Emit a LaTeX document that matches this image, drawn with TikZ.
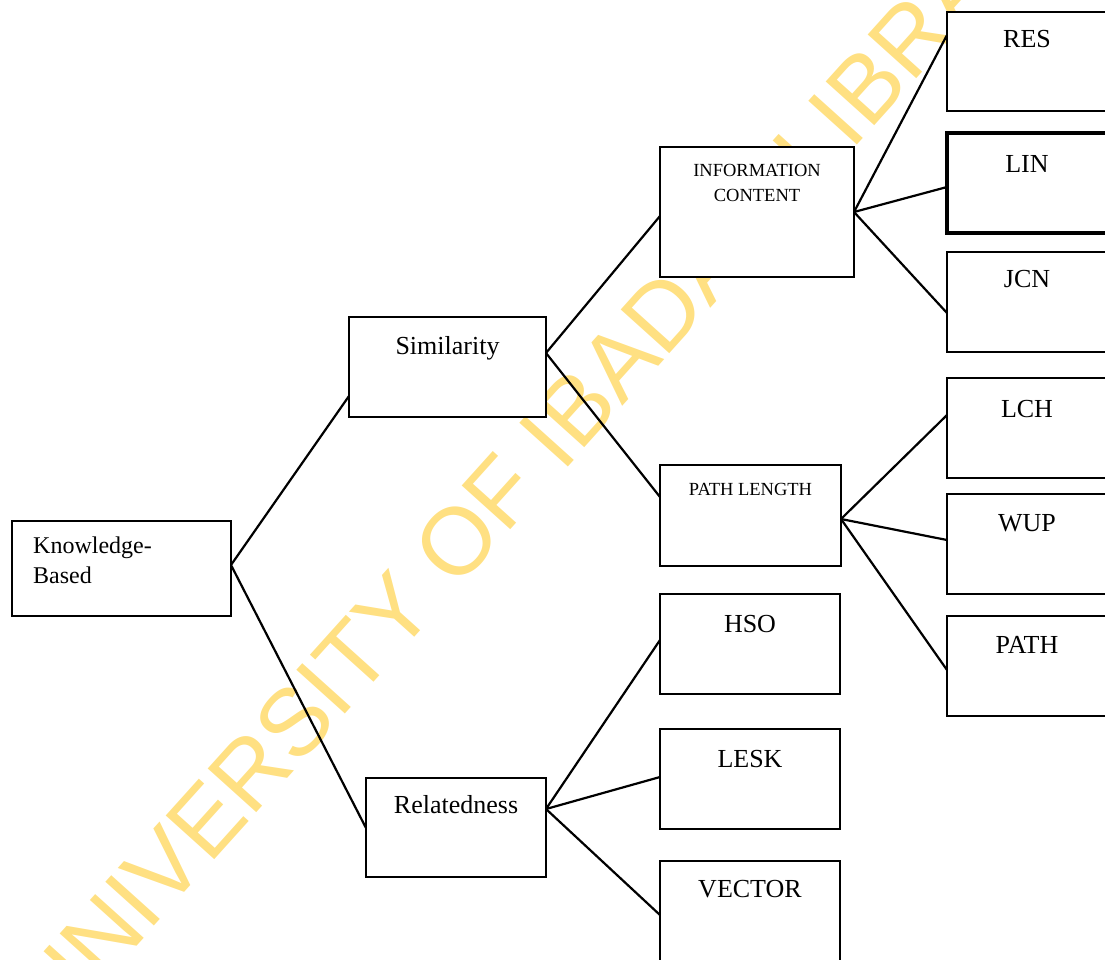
\documentclass[tikz,border=0pt]{standalone}
\usepackage{fontspec}
\setmainfont{Liberation Serif}
\newfontfamily\wmfont{Liberation Sans}
\definecolor{wmyellow}{RGB}{255,224,130}
\pgfdeclarelayer{wmlayer}
\pgfdeclarelayer{linklayer}
\pgfsetlayers{wmlayer,linklayer,main}
\begin{document}
\begin{tikzpicture}[x=1pt,y=-1pt,
  box/.style={draw=black, fill=white, line width=2.3pt, inner sep=0pt, outer sep=0pt,
              anchor=north west, minimum height=100pt},
  lbl/.style={anchor=base, inner sep=0pt, font=\fontsize{26}{30}\selectfont},
  small/.style={anchor=base, inner sep=0pt, align=center, font=\fontsize{18.5}{25}\selectfont},
  link/.style={line width=2.2pt, line cap=round}]
\clip (0,0) rectangle (1105,959);

% boxes
\node[box, minimum width=219pt, minimum height=95pt] (kb) at (12,521) {};
\node[box, minimum width=197pt] (sim) at (349,317) {};
\node[box, minimum width=180pt, minimum height=99pt] (rel) at (366,778) {};
\node[box, minimum width=194pt, minimum height=130pt] (ic) at (660,147) {};
\node[box, minimum width=181pt, minimum height=101pt] (pl) at (660,465) {};
\node[box, minimum width=180pt] (hso) at (660,594) {};
\node[box, minimum width=180pt] (lesk) at (660,729) {};
\node[box, minimum width=180pt] (vec) at (660,861) {};
\node[box, minimum width=160pt, minimum height=99pt] (res) at (947,12) {};
\node[box, minimum width=160pt, line width=3.5pt] (lin) at (947,133) {};
\node[box, minimum width=160pt] (jcn) at (947,252) {};
\node[box, minimum width=160pt] (lch) at (947,378) {};
\node[box, minimum width=160pt] (wup) at (947,494) {};
\node[box, minimum width=160pt] (path) at (947,616) {};

% labels (for two-line labels the base anchor sits on the last line)
\node[anchor=base west, align=left, inner sep=0pt, font=\fontsize{24}{30}\selectfont]
  (kbT) at ([xshift=21pt,yshift=-62pt]kb.north west) {Knowledge-\\Based};
\node[lbl] (simT) at ([yshift=-37pt]sim.north) {Similarity};
\node[lbl] (relT) at ([yshift=-35pt]rel.north) {Relatedness};
\node[small] (icT) at ([yshift=-54pt]ic.north) {INFORMATION\\CONTENT};
\node[small] (plT) at ([yshift=-30pt]pl.north) {PATH LENGTH};
\node[lbl] (hsoT) at ([yshift=-38pt]hso.north) {HSO};
\node[lbl] (leskT) at ([yshift=-38pt]lesk.north) {LESK};
\node[lbl] (vecT) at ([yshift=-36pt]vec.north) {VECTOR};
\node[lbl] (resT) at ([yshift=-35pt]res.north) {RES};
\node[lbl] (linT) at ([yshift=-39pt]lin.north) {LIN};
\node[lbl] (jcnT) at ([yshift=-35pt]jcn.north) {JCN};
\node[lbl] (lchT) at ([yshift=-39pt]lch.north) {LCH};
\node[lbl] (wupT) at ([yshift=-37pt]wup.north) {WUP};
\node[lbl] (pathT) at ([yshift=-37pt]path.north) {PATH};

% connectors, under the boxes
\begin{pgfonlayer}{linklayer}
\draw[link] ([yshift=-44pt]kb.north east) -- ([yshift=-79pt]sim.north west);
\draw[link] ([yshift=-44pt]kb.north east) -- ([yshift=-50pt]rel.north west);
\draw[link] ([yshift=-36pt]sim.north east) -- ([yshift=-69pt]ic.north west);
\draw[link] ([yshift=-36pt]sim.north east) -- ([yshift=-32pt]pl.north west);
\draw[link] ([yshift=-31pt]rel.north east) -- ([yshift=-46pt]hso.north west);
\draw[link] ([yshift=-31pt]rel.north east) -- ([yshift=-48pt]lesk.north west);
\draw[link] ([yshift=-31pt]rel.north east) -- ([yshift=-54pt]vec.north west);
\draw[link] ([yshift=-65pt]ic.north east) -- ([yshift=-23pt]res.north west);
\draw[link] ([yshift=-65pt]ic.north east) -- ([yshift=-54pt]lin.north west);
\draw[link] ([yshift=-65pt]ic.north east) -- ([yshift=-61pt]jcn.north west);
\draw[link] ([yshift=-54pt]pl.north east) -- ([yshift=-37pt]lch.north west);
\draw[link] ([yshift=-54pt]pl.north east) -- ([yshift=-46pt]wup.north west);
\draw[link] ([yshift=-54pt]pl.north east) -- ([yshift=-54pt]path.north west);
\end{pgfonlayer}

% watermark, beneath everything
\begin{pgfonlayer}{wmlayer}
\node[rotate=48, text=wmyellow, inner sep=0pt,
      font=\wmfont\fontsize{95}{95}\selectfont] (wm) at (548,440) {UNIVERSITY OF IBADAN LIBRARY};
\end{pgfonlayer}
\end{tikzpicture}
\end{document}
